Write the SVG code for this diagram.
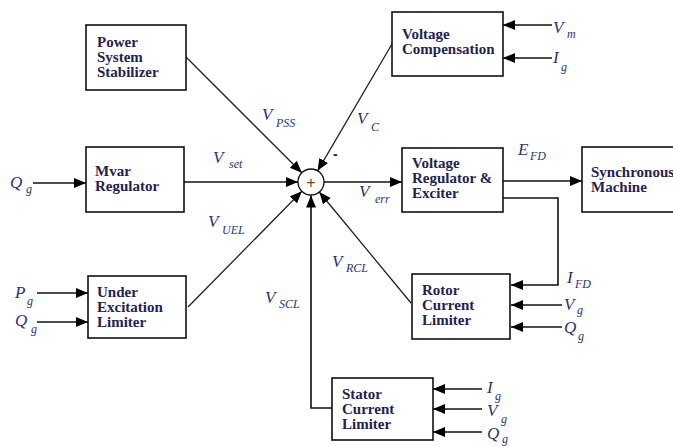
<svg xmlns="http://www.w3.org/2000/svg" width="673" height="446" viewBox="0 0 673 446">
<style>
.box{fill:#fff;stroke:#111;stroke-width:1.6}
.bt{font-family:"Liberation Serif",serif;font-weight:bold;font-size:15px;fill:#24224e}
.lb{font-family:"Liberation Serif",serif;font-style:italic;font-size:17px;fill:#2a3570}
.sb{font-family:"Liberation Serif",serif;font-style:italic;font-size:12px;fill:#2a3570}
.ln{fill:none;stroke:#111;stroke-width:1.6}
.dg{fill:none;stroke:#222;stroke-width:1.3}
</style>
<defs>
<marker id="ah" markerUnits="userSpaceOnUse" markerWidth="13" markerHeight="11" refX="12" refY="5" orient="auto">
<path d="M0,0 L12,5 L0,10 z" fill="#000"/>
</marker>
</defs>
<g id="connectors">
<line class="dg" x1="186" y1="57" x2="301.8" y2="172.8" marker-end="url(#ah)"/>
<line class="dg" x1="392" y1="44" x2="317.6" y2="170.8" marker-end="url(#ah)"/>
<line class="ln" x1="184" y1="182" x2="298" y2="182" marker-end="url(#ah)"/>
<line class="dg" x1="188" y1="307" x2="301.9" y2="191.3" marker-end="url(#ah)"/>
<polyline class="ln" points="332,408 311,408 311,195.5" marker-end="url(#ah)"/>
<line class="dg" x1="411" y1="303" x2="319.3" y2="192" marker-end="url(#ah)"/>
<line class="ln" x1="324" y1="182" x2="402" y2="182" marker-end="url(#ah)"/>
<line class="ln" x1="503" y1="181" x2="582" y2="181" marker-end="url(#ah)"/>
<polyline class="ln" points="503,198 558,198 558,285 511,285" marker-end="url(#ah)"/>
<line class="ln" x1="33" y1="183" x2="86" y2="183" marker-end="url(#ah)"/>
<line class="ln" x1="37" y1="293" x2="88" y2="293" marker-end="url(#ah)"/>
<line class="ln" x1="37" y1="322" x2="88" y2="322" marker-end="url(#ah)"/>
<line class="ln" x1="552" y1="25" x2="503" y2="25" marker-end="url(#ah)"/>
<line class="ln" x1="552" y1="58" x2="503" y2="58" marker-end="url(#ah)"/>
<line class="ln" x1="562" y1="305" x2="511" y2="305" marker-end="url(#ah)"/>
<line class="ln" x1="562" y1="327" x2="511" y2="327" marker-end="url(#ah)"/>
<line class="ln" x1="482" y1="389" x2="433" y2="389" marker-end="url(#ah)"/>
<line class="ln" x1="482" y1="409" x2="433" y2="409" marker-end="url(#ah)"/>
<line class="ln" x1="482" y1="432" x2="433" y2="432" marker-end="url(#ah)"/>
</g>
<g id="sum">
<circle cx="311" cy="182" r="13" fill="#fff" stroke="#111" stroke-width="1.3"/>
<text x="311" y="187.5" text-anchor="middle" style="font-family:'Liberation Sans',sans-serif;font-size:16px;fill:#6a4a2a">+</text>
<text x="333" y="159" style="font-family:'Liberation Sans',sans-serif;font-weight:bold;font-size:14px;fill:#222">-</text>
</g>
<g id="pss">
<rect class="box" x="86" y="25" width="100" height="65"/>
<text class="bt"><tspan x="97" y="47">Power</tspan><tspan x="97" y="62">System</tspan><tspan x="97" y="77">Stabilizer</tspan></text>
</g>
<g id="vcomp">
<rect class="box" x="392" y="12" width="111" height="64"/>
<text class="bt"><tspan x="402" y="39">Voltage</tspan><tspan x="402" y="54">Compensation</tspan></text>
</g>
<g id="mvar">
<rect class="box" x="86" y="147" width="98" height="65"/>
<text class="bt"><tspan x="95" y="176">Mvar</tspan><tspan x="95" y="191">Regulator</tspan></text>
</g>
<g id="uel">
<rect class="box" x="88" y="276" width="98" height="62"/>
<text class="bt"><tspan x="97" y="297">Under</tspan><tspan x="97" y="312">Excitation</tspan><tspan x="97" y="327">Limiter</tspan></text>
</g>
<g id="avr">
<rect class="box" x="402" y="148" width="101" height="64"/>
<text class="bt"><tspan x="412" y="168">Voltage</tspan><tspan x="412" y="183">Regulator &amp;</tspan><tspan x="412" y="198">Exciter</tspan></text>
</g>
<g id="sm">
<rect class="box" x="582" y="147" width="110" height="65"/>
<text class="bt"><tspan x="591" y="177">Synchronous</tspan><tspan x="591" y="192">Machine</tspan></text>
</g>
<g id="rcl">
<rect class="box" x="412" y="274" width="98" height="65"/>
<text class="bt"><tspan x="422" y="295">Rotor</tspan><tspan x="422" y="310">Current</tspan><tspan x="422" y="325">Limiter</tspan></text>
</g>
<g id="scl">
<rect class="box" x="332" y="378" width="101" height="62"/>
<text class="bt"><tspan x="342" y="399">Stator</tspan><tspan x="342" y="414">Current</tspan><tspan x="342" y="429">Limiter</tspan></text>
</g>
<g id="labels">
<text class="lb" x="262" y="120">V</text><text class="sb" x="276" y="127">PSS</text>
<text class="lb" x="357" y="124">V</text><text class="sb" x="371" y="131">C</text>
<text class="lb" x="553" y="33">V</text><text class="sb" x="567" y="38">m</text>
<text class="lb" x="553" y="63">I</text><text class="sb" x="561" y="71">g</text>
<text class="lb" x="213" y="163">V</text><text class="sb" x="229" y="168">set</text>
<text class="lb" x="208" y="227">V</text><text class="sb" x="222" y="234">UEL</text>
<text class="lb" x="10" y="188">Q</text><text class="sb" x="26" y="193">g</text>
<text class="lb" x="15" y="298">P</text><text class="sb" x="27" y="305">g</text>
<text class="lb" x="15" y="326">Q</text><text class="sb" x="31" y="333">g</text>
<text class="lb" x="265" y="303">V</text><text class="sb" x="279" y="308">SCL</text>
<text class="lb" x="332" y="267">V</text><text class="sb" x="346" y="272">RCL</text>
<text class="lb" x="359" y="197">V</text><text class="sb" x="375" y="203">err</text>
<text class="lb" x="518" y="155">E</text><text class="sb" x="530" y="160">FD</text>
<text class="lb" x="567" y="283">I</text><text class="sb" x="575" y="288">FD</text>
<text class="lb" x="564" y="310">V</text><text class="sb" x="577" y="314">g</text>
<text class="lb" x="564" y="333">Q</text><text class="sb" x="578" y="340">g</text>
<text class="lb" x="487" y="393">I</text><text class="sb" x="495" y="400">g</text>
<text class="lb" x="487" y="416">V</text><text class="sb" x="501" y="423">g</text>
<text class="lb" x="487" y="439">Q</text><text class="sb" x="502" y="443">g</text>
</g>
</svg>
